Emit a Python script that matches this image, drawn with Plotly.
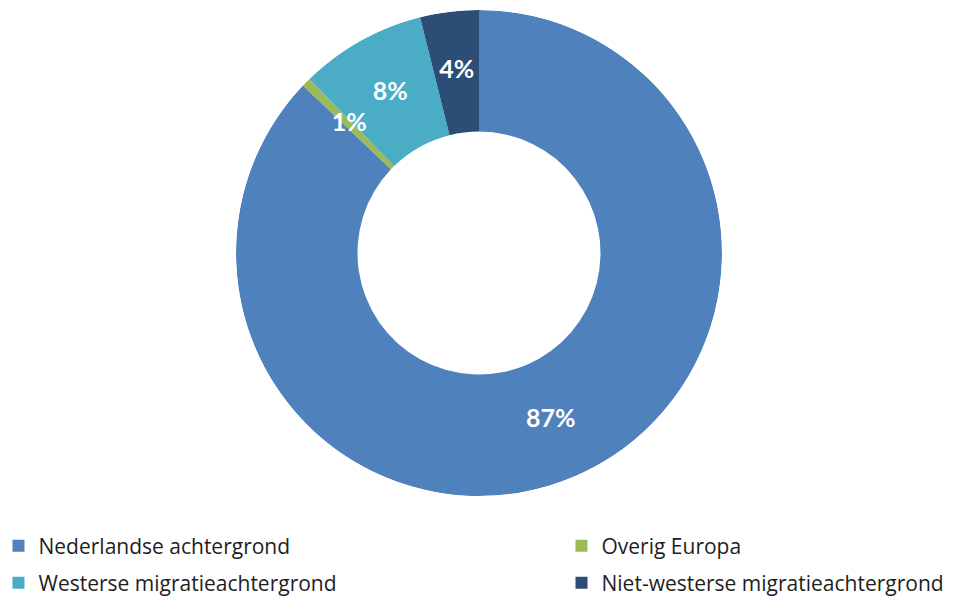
import plotly.graph_objects as go

categories = ["Nederlandse achtergrond", "Overig Europa",
              "Westerse migratieachtergrond", "Niet-westerse migratieachtergrond"]
values = [87.1, 0.6, 8.4, 3.9]
colors = ["#4F81BD", "#9BBB59", "#4BACC6", "#2C4D75"]

total = sum(values)
shares = [v / total for v in values]
labels_pct = [f"{round(s * 100):d}%" for s in shares]
mid_theta, widths = [], []
cum = 0.0
for s in shares:
    mid_theta.append((cum + s / 2) * 360)
    widths.append(s * 360)
    cum += s

HOLE = 0.5

fig = go.Figure()
legend_names = ["legend", "legend2", "legend3", "legend4"]
for cat, col, th, wd, lg in zip(categories, colors, mid_theta, widths, legend_names):
    fig.add_trace(go.Barpolar(
        r=[1 - HOLE], base=[HOLE], theta=[th], width=[wd], name=cat, legend=lg,
        marker=dict(color=col, line=dict(width=0)),
        hovertemplate=cat + "<extra></extra>",
    ))

# percentage labels at the middle of each ring segment
fig.add_trace(go.Scatterpolar(
    r=[(1 + HOLE) / 2] * len(values), theta=mid_theta, mode="text",
    text=labels_pct, showlegend=False, hoverinfo="skip",
    textfont=dict(family="Lato", size=25, color="white", weight="bold"),
))

W, H = 966, 597
ml, mr, mt, mb = 0, 24, 2, 109
pw, ph = W - ml - mr, H - mt - mb

def lx(px):
    return (px - ml) / pw

def ly(py):
    return (H - mb - py) / ph

leg_common = dict(orientation="v", xanchor="left", yanchor="middle",
                  font=dict(family="Open Sans", size=21, color="#1e1e1e"),
                  bgcolor="rgba(0,0,0,0)", itemsizing="trace")
pos = [(-9.5, 538), (553.5, 538), (-9.5, 575), (553.5, 575)]
layout_legends = {}
for lg, (px, py) in zip(legend_names, pos):
    layout_legends[lg] = dict(leg_common, x=lx(px), y=ly(py))

fig.update_layout(
    width=W, height=H,
    margin=dict(l=ml, r=mr, t=mt, b=mb, autoexpand=False),
    paper_bgcolor="white", plot_bgcolor="white",
    polar=dict(
        domain=dict(x=[0, 1], y=[0, 1]),
        bgcolor="rgba(0,0,0,0)",
        bargap=0,
        angularaxis=dict(direction="clockwise", rotation=90, visible=False),
        radialaxis=dict(range=[0, 1], visible=False),
    ),
    showlegend=True,
    **layout_legends,
)

fig.write_html("out.html")
